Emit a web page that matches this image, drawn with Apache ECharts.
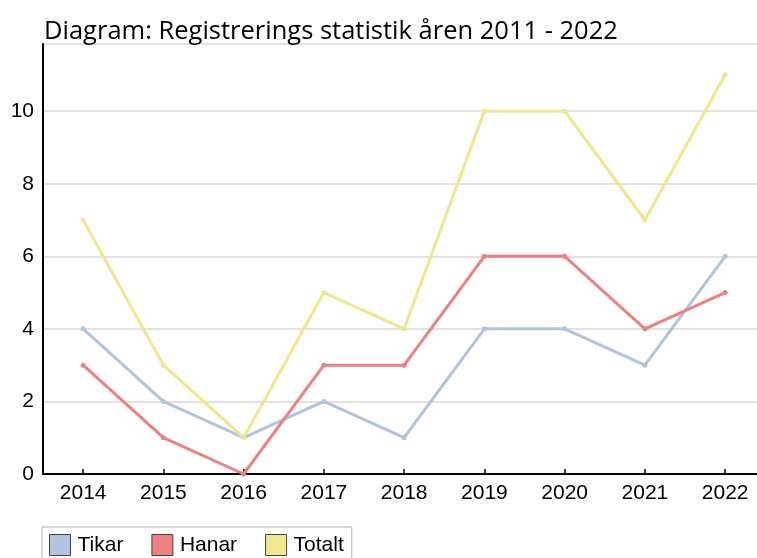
<!DOCTYPE html>
<html><head><meta charset="utf-8">
<script src="https://cdn.jsdelivr.net/npm/echarts@6/dist/echarts.min.js"></script>
<style>html,body{margin:0;padding:0;background:#fff}#c{width:757px;height:558px}</style>
</head><body><div id="c"></div>
<script>
const years = [2014,2015,2016,2017,2018,2019,2020,2021,2022];
const tikar = [4,2,1,2,1,4,4,3,6];
const hanar = [3,1,0,3,3,6,6,4,5];
const totalt = [7,3,1,5,4,10,10,7,11];
const yTicks = [0,2,4,6,8,10];

const FONT = '"Liberation Sans", Arial, sans-serif';
const chart = echarts.init(document.getElementById('c'), null, {renderer:'canvas'});
const mk = (name, vals, color) => ({
  name, type:'line', data: vals.map((v,i)=>[years[i], v]), symbol:'circle', symbolSize:5, showSymbol:true,
  lineStyle:{color, width:3}, itemStyle:{color},
  emphasis:{disabled:true}, animation:false
});
chart.setOption({
  animation:false,
  title:{text:'Diagram: Registrerings statistik åren 2011 - 2022', left:39, top:14,
    textStyle:{fontFamily:'Open Sans', fontSize:25.5, fontWeight:'normal', color:'#000'}},
  grid:{left:43, right:0, top:44, bottom:84, containLabel:false},
  xAxis:{type:'value', min:2013.5, max:2022.397,
    splitLine:{show:false},
    axisLine:{lineStyle:{color:'#000', width:2}},
    axisTick:{inside:true, length:5, customValues:years, lineStyle:{color:'#000', width:1.5}},
    axisLabel:{color:'#000', fontFamily:FONT, fontSize:21, margin:9, customValues:years,
      formatter:v=>String(v)}},
  yAxis:{type:'value', min:0, max:11.85, interval:2,
    axisLine:{show:true, lineStyle:{color:'#000', width:2}},
    axisTick:{show:false},
    axisLabel:{color:'#000', fontFamily:FONT, fontSize:21, margin:9,
      formatter:v=> yTicks.includes(v) ? String(v) : ''},
    splitLine:{lineStyle:{color:'#e2e2e2', width:2}}},
  legend:{left:42, top:527, orient:'horizontal', icon:'rect', itemWidth:21, itemHeight:21, itemGap:28,
    padding:[7,8,6,7], borderColor:'#b0b0b0', borderWidth:1,
    textStyle:{fontFamily:FONT, fontSize:21, color:'#000', padding:[0,0,0,2]},
    data:[
      {name:'Tikar', itemStyle:{color:'#b0c4de', borderColor:'#444', borderWidth:1}},
      {name:'Hanar', itemStyle:{color:'#f08080', borderColor:'#444', borderWidth:1}},
      {name:'Totalt', itemStyle:{color:'#f0e68c', borderColor:'#444', borderWidth:1}}
    ]},
  series:[mk('Tikar', tikar, '#b0c4de'), mk('Hanar', hanar, '#f08080'), mk('Totalt', totalt, '#f0e68c')]
});
</script></body></html>
